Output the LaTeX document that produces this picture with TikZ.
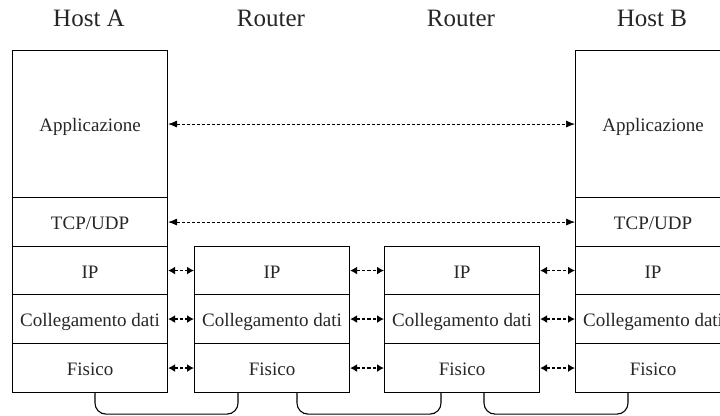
\documentclass[tikz,border=0pt]{standalone}
\usepackage{fontspec}
\setmainfont{Liberation Serif}
\usetikzlibrary{arrows.meta}
\begin{document}
\begin{tikzpicture}[x=1pt,y=-1pt,
  layer/.style={draw, line width=1.1pt, minimum width=155pt, anchor=north west, inner sep=0pt,
    text height=15pt, text depth=0pt,
    font=\fontsize{19}{20}\selectfont, text=black!85},
  title/.style={anchor=base, font=\fontsize{25}{28}\selectfont, text=black!85},
  longarrow/.style={line width=0.7pt, dash pattern=on 3pt off 2pt,
    {Latex[length=9pt,width=7pt]}-{Latex[length=9pt,width=7pt]}},
  shortarrow/.style={line width=1.4pt, dash pattern=on 3.5pt off 2pt,
    {Latex[length=7pt,width=8pt]}-{Latex[length=7pt,width=8pt]}},
  link/.style={line width=1.1pt, rounded corners=11pt}
]
\useasboundingbox (0,0) rectangle (720,415);
\clip (0,0) rectangle (720,415);

% titles
\node[title] (tA) at (89,27) {Host A};
\node[title] (tR1) at (271,27) {Router};
\node[title] (tR2) at (461,27) {Router};
\node[title] (tB) at (652,27) {Host B};

% Host A
\node[layer, minimum height=147pt] (aapp) at (12,50) {Applicazione};
\node[layer, minimum height=49pt] (atcp) at (12,197) {TCP/UDP};
\node[layer, minimum height=48pt] (aip) at (12,246) {IP};
\node[layer, minimum height=49pt] (adl) at (12,294) {Collegamento dati};
\node[layer, minimum height=49pt] (aph) at (12,343) {Fisico};

% Router 1
\node[layer, minimum height=48pt] (r1ip) at (194,246) {IP};
\node[layer, minimum height=49pt] (r1dl) at (194,294) {Collegamento dati};
\node[layer, minimum height=49pt] (r1ph) at (194,343) {Fisico};

% Router 2
\node[layer, minimum height=48pt] (r2ip) at (384,246) {IP};
\node[layer, minimum height=49pt] (r2dl) at (384,294) {Collegamento dati};
\node[layer, minimum height=49pt] (r2ph) at (384,343) {Fisico};

% Host B
\node[layer, minimum height=147pt] (bapp) at (575,50) {Applicazione};
\node[layer, minimum height=49pt] (btcp) at (575,197) {TCP/UDP};
\node[layer, minimum height=48pt] (bip) at (575,246) {IP};
\node[layer, minimum height=49pt] (bdl) at (575,294) {Collegamento dati};
\node[layer, minimum height=49pt] (bph) at (575,343) {Fisico};

% end-to-end arrows
\draw[longarrow] (aapp.east) -- (bapp.west);
\draw[longarrow] (atcp.east) -- (btcp.west);

% hop arrows
\foreach \l in {ip,dl,ph}{
  \draw[shortarrow] (a\l.east) -- (r1\l.west);
  \draw[shortarrow] (r1\l.east) -- (r2\l.west);
  \draw[shortarrow] (r2\l.east) -- (b\l.west);
}

% physical links
\draw[link] ([xshift=83pt]aph.south west) -- ++(0,21) -| ([xshift=44pt]r1ph.south west);
\draw[link] ([xshift=103pt]r1ph.south west) -- ++(0,21) -| ([xshift=57pt]r2ph.south west);
\draw[link] ([xshift=100pt]r2ph.south west) -- ++(0,21) -| ([xshift=53pt]bph.south west);
\end{tikzpicture}
\end{document}
